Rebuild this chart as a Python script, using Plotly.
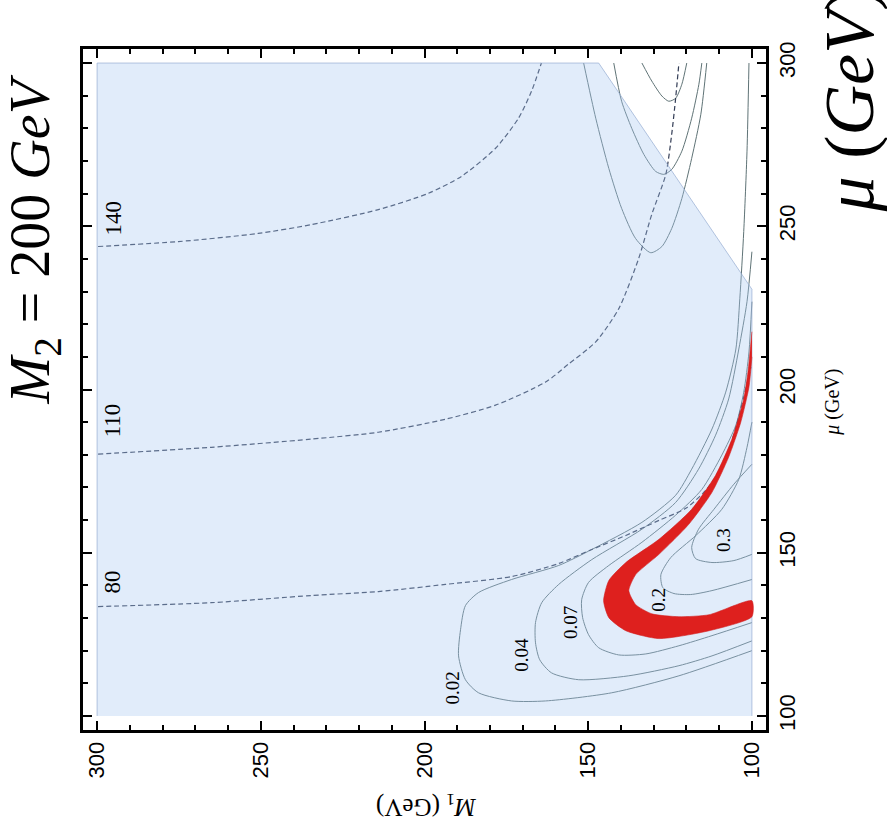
import plotly.graph_objects as go

# ---------------- data (M1 in GeV, mu in GeV) ----------------
# allowed (shaded) region outline
shade_m1 = [300, 300, 146.8, 100, 100]
shade_mu = [100, 300, 300, 230.7, 100]

# relic density contours
c002_m1 = [100.9, 101.5, 102.5, 103.7, 104.9, 108.0, 112.2, 118.4, 123.3, 133.6, 148.9, 159.0, 173.4, 183.5, 187.5, 189.0, 189.6, 187.5, 183.5, 173.4, 163.0, 142.8, 122.3, 100.0]
c002_mu = [300.0, 273.0, 248.4, 227.8, 212.4, 199.2, 187.9, 175.6, 167.6, 159.3, 151.0, 146.1, 141.8, 137.8, 133.8, 126.4, 118.4, 111.1, 107.1, 104.6, 104.6, 107.1, 112.3, 120.0]

c004_m1 = [100.0, 101.5, 104.0, 107.1, 111.1, 116.3, 123.3, 133.6, 148.9, 159.0, 164.2, 166.1, 166.1, 164.8, 161.2, 152.9, 137.6, 122.3, 112.2, 100.0]
c004_mu = [242.2, 226.9, 212.4, 197.1, 186.0, 175.6, 165.4, 157.2, 147.9, 140.3, 134.7, 128.6, 122.4, 117.2, 113.2, 111.1, 112.3, 115.4, 118.4, 123.0]

c007_m1 = [100.0, 100.9, 102.5, 104.9, 109.2, 115.3, 123.3, 133.6, 143.7, 149.9, 152.0, 151.7, 149.9, 146.8, 140.7, 132.4, 122.3, 112.2, 100.0]
c007_mu = [226.9, 211.5, 199.2, 189.1, 179.9, 169.4, 161.5, 153.2, 146.1, 140.9, 135.6, 130.1, 124.9, 120.9, 118.7, 119.0, 121.5, 124.6, 128.6]

c02_m1 = [100.0, 101.5, 104.0, 109.2, 117.1, 124.8, 127.8, 127.2, 123.8, 118.7, 112.2, 100.0]
c02_mu = [190.0, 182.3, 172.5, 163.3, 155.3, 148.5, 143.3, 139.3, 137.5, 137.2, 138.4, 141.8]

c03_m1 = [100.0, 105.5, 111.6, 116.3, 118.4, 117.2, 112.2, 105.5, 100.0]
c03_mu = [177.1, 171.0, 163.3, 157.2, 151.6, 148.2, 147.0, 147.6, 149.5]

# closed contour pieces in the excluded (white) corner
isl1_m1 = [151.4, 147.7, 143.7, 139.8, 135.5, 130.9, 127.5, 124.5, 121.4, 118.4, 115.6, 113.8]
isl1_mu = [300.0, 283.1, 267.7, 255.5, 246.2, 241.9, 243.8, 249.3, 258.5, 270.8, 284.3, 300.0]
isl2_m1 = [142.2, 139.8, 136.7, 133.0, 129.4, 126.9, 124.5, 121.4, 118.4, 116.2, 115.3]
isl2_mu = [300.0, 288.3, 280.0, 272.0, 266.8, 265.9, 267.4, 273.0, 283.1, 293.5, 300.0]
isl3_m1 = [133.6, 130.6, 127.5, 125.4, 123.3, 121.4, 119.9]
isl3_mu = [300.0, 294.5, 289.9, 288.3, 289.2, 293.5, 300.0]

# WMAP band (outer edge then inner edge)
band_m1 = [100.0, 101.2, 102.5, 106.1, 111.1, 118.4, 128.4, 138.5, 143.7, 145.3, 143.7, 138.5, 128.4, 113.1, 100.0,
           100.0, 113.1, 122.3, 130.6, 135.5, 137.6, 135.5, 128.4, 119.3, 112.2, 107.1, 103.4, 100.9, 100.0]
band_mu = [217.7, 205.4, 197.1, 184.8, 173.7, 163.3, 154.1, 147.0, 141.5, 135.3, 130.1, 126.1, 123.7, 126.1, 130.4,
           135.3, 131.0, 130.4, 131.3, 134.1, 138.4, 143.3, 149.5, 158.7, 168.5, 179.3, 190.0, 200.8, 210.0]

# LSP mass contours (dashed)
m80_m1 = [299.7, 265.1, 234.6, 214.1, 193.6, 173.4, 159.0, 148.9, 138.5, 128.4, 120.2, 114.1, 110.2, 107.1, 104.7, 102.5, 100.3]
m80_mu = [133.5, 134.7, 136.9, 138.1, 140.3, 142.7, 146.7, 151.0, 155.3, 159.9, 163.6, 169.1, 174.7, 181.4, 189.1, 197.7, 206.9]
m110_m1 = [299.7, 265.1, 234.6, 214.1, 193.6, 178.3, 163.0, 156.0, 147.7, 140.7, 134.6, 130.6, 126.3, 124.5, 123.3, 122.3]
m110_mu = [180.2, 182.3, 184.8, 186.9, 190.9, 195.2, 202.3, 207.8, 214.6, 224.7, 240.1, 253.6, 265.9, 278.2, 289.2, 300.0]
m140_m1 = [299.7, 275.2, 250.8, 234.6, 214.1, 198.8, 188.7, 178.3, 171.3, 167.3, 164.3]
m140_mu = [243.8, 245.3, 247.8, 250.5, 255.1, 260.1, 265.3, 273.9, 283.1, 291.4, 300.0]

# contour labels
lab_text = ["0.02", "0.04", "0.07", "0.2", "0.3"]
lab_m1 = [191.4, 170.3, 155.4, 128.4, 108.6]
lab_mu = [108.6, 118.7, 128.6, 135.6, 153.8]
mlab_text = ["80", "110", "140"]
mlab_m1 = [295.4, 295.4, 295.1]
mlab_mu = [140.9, 190.6, 252.4]

# ---------------- figure ----------------
fig = go.Figure()

solid_col = "rgb(95,115,118)"
for xs, ys in [(c002_m1, c002_mu), (c004_m1, c004_mu), (c007_m1, c007_mu),
               (c02_m1, c02_mu), (c03_m1, c03_mu),
               (isl1_m1, isl1_mu), (isl2_m1, isl2_mu), (isl3_m1, isl3_mu)]:
    fig.add_trace(go.Scatter(x=xs, y=ys, mode="lines",
                             line=dict(color=solid_col, width=1.0, shape="spline", smoothing=0.7),
                             hoverinfo="skip", showlegend=False))

dash_col = "rgb(50,60,85)"
for xs, ys in [(m80_m1, m80_mu), (m110_m1, m110_mu), (m140_m1, m140_mu)]:
    fig.add_trace(go.Scatter(x=xs, y=ys, mode="lines",
                             line=dict(color=dash_col, width=1.2, dash="5px,3px", shape="spline", smoothing=0.7),
                             hoverinfo="skip", showlegend=False))

# translucent shaded region on top of lines
fig.add_trace(go.Scatter(x=shade_m1, y=shade_mu, mode="lines", fill="toself",
                         fillcolor="rgba(170,200,240,0.35)",
                         line=dict(color="rgba(150,172,210,0.7)", width=1),
                         hoverinfo="skip", showlegend=False))

# red band
fig.add_trace(go.Scatter(x=band_m1, y=band_mu, mode="lines", fill="toself",
                         fillcolor="rgb(222,32,30)",
                         line=dict(color="rgb(210,30,30)", width=0.6, shape="spline", smoothing=0.6),
                         hoverinfo="skip", showlegend=False))

annotations = []
for t, xv, yv in zip(lab_text, lab_m1, lab_mu):
    annotations.append(dict(x=xv, y=yv, xref="x", yref="y", text=t, showarrow=False, textangle=-90,
                            xanchor="center", yanchor="middle",
                            font=dict(family="Liberation Serif", size=19, color="black")))
for t, xv, yv in zip(mlab_text, mlab_m1, mlab_mu):
    annotations.append(dict(x=xv, y=yv, xref="x", yref="y", text=t, showarrow=False, textangle=-90,
                            xanchor="center", yanchor="middle",
                            font=dict(family="Liberation Serif", size=23, color="black")))

# titles / axis labels (rotated figure)
annotations.append(dict(x=-0.072, y=0.72, xref="paper", yref="paper", showarrow=False, textangle=-90,
                        xanchor="center", yanchor="middle",
                        text="<i>M</i><sub>2</sub> = 200 <i>GeV</i>",
                        font=dict(family="Liberation Serif", size=56, color="black")))
annotations.append(dict(x=1.122, y=0.925, xref="paper", yref="paper", showarrow=False, textangle=-90,
                        xanchor="center", yanchor="middle",
                        text="<i>μ</i> (<i>GeV</i>)",
                        font=dict(family="Liberation Serif", size=70, color="black")))
annotations.append(dict(x=1.098, y=0.482, xref="paper", yref="paper", showarrow=False, textangle=-90,
                        xanchor="center", yanchor="middle",
                        text="<i>μ</i> (GeV)",
                        font=dict(family="Liberation Serif", size=20, color="black")))
annotations.append(dict(x=0.502, y=-0.11, xref="paper", yref="paper", showarrow=False, textangle=180,
                        xanchor="center", yanchor="middle",
                        text="<i>M</i><sub>1</sub> (GeV)",
                        font=dict(family="Liberation Serif", size=25, color="black")))

axis_common = dict(showgrid=False, zeroline=False, showline=True, linewidth=3, linecolor="black",
                   mirror="ticks", ticks="inside", ticklen=9, tickwidth=2, tickcolor="black",
                   tick0=0, dtick=50, tickangle=-90,
                   tickfont=dict(family="Liberation Sans", size=22, color="black"),
                   minor=dict(dtick=10, tick0=0, ticks="inside", ticklen=5, tickwidth=2, tickcolor="black"))

fig.update_layout(
    width=887, height=823,
    margin=dict(l=83, r=121, t=49, b=93),
    paper_bgcolor="white", plot_bgcolor="white",
    xaxis=dict(range=[304.3, 95.7], **axis_common),
    yaxis=dict(range=[95.7, 304.3], side="right", **axis_common),
    annotations=annotations,
    showlegend=False,
)

fig.write_html("out.html", config={"displayModeBar": False},
               post_script="document.body.style.margin='0px';document.body.style.padding='0px';")
